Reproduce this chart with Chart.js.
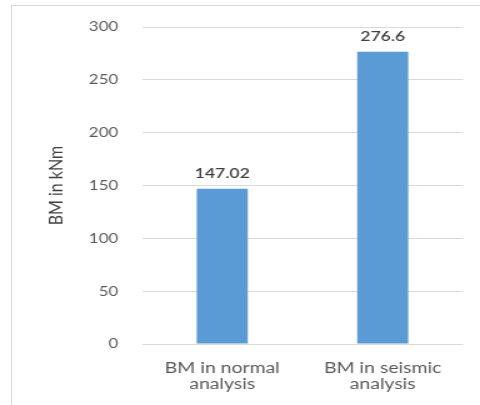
<!DOCTYPE html>
<html>
<head>
<meta charset="utf-8">
<script src="https://cdn.jsdelivr.net/npm/chart.js@4/dist/chart.umd.min.js"></script>
<style>
  html, body { margin: 0; padding: 0; background: #fff; overflow: hidden; }
  body { width: 480px; height: 405px; position: relative; }
  #frame {
    position: absolute; left: 11px; top: 5px; width: 520px; height: 440px;
    border: 1px solid #d9d9d9; box-sizing: border-box;
  }
  #wrap {
    position: absolute; left: 0; top: 0; width: 384px; height: 405px;
    transform: scaleX(1.25); transform-origin: 0 0;
  }
</style>
</head>
<body>
<div id="frame"></div>
<div id="wrap"><canvas id="c" width="384" height="405"></canvas></div>
<script>
// Bending moment results for the two analysis cases
const categories = [["BM in normal", "analysis"], ["BM in seismic", "analysis"]];
const bmValues = [147.02, 276.6];
const valueLabels = ["147.02", "276.6"];
const yTicks = [0, 50, 100, 150, 200, 250, 300];

const barLabels = {
  id: 'barLabels',
  afterDatasetsDraw(chart) {
    const ctx = chart.ctx;
    const meta = chart.getDatasetMeta(0);
    ctx.save();
    ctx.font = '600 14px Lato, "DejaVu Sans", sans-serif';
    ctx.fillStyle = '#404040';
    ctx.textAlign = 'center';
    ctx.textBaseline = 'middle';
    meta.data.forEach((bar, i) => {
      ctx.fillText(valueLabels[i], bar.x, bar.y - 15);
    });
    ctx.restore();
  }
};

new Chart(document.getElementById('c'), {
  type: 'bar',
  data: {
    labels: categories,
    datasets: [{
      data: bmValues,
      backgroundColor: '#5b9bd5',
      borderWidth: 0,
      barPercentage: 0.318,
      categoryPercentage: 1
    }]
  },
  options: {
    responsive: false,
    animation: false,
    devicePixelRatio: 1,
    layout: { padding: { left: 35, right: 13.6, top: 21, bottom: 0 } },
    plugins: { legend: { display: false }, tooltip: { enabled: false } },
    scales: {
      x: {
        grid: { display: false, drawTicks: false },
        border: { display: false },
        ticks: {
          color: '#595959',
          padding: 16,
          font: { family: 'Lato, "DejaVu Sans", sans-serif', size: 15.5, lineHeight: 1.05 }
        },
        afterFit(scale) { scale.height = 61; }
      },
      y: {
        min: 0,
        max: 300,
        afterBuildTicks(scale) { scale.ticks = yTicks.map(v => ({ value: v })); },
        grid: { color: '#d9d9d9', lineWidth: 1, drawTicks: false },
        border: { display: false },
        ticks: {
          color: '#595959',
          padding: 19,
          font: { family: 'Lato, "DejaVu Sans", sans-serif', size: 13.5 }
        },
        title: {
          display: true,
          text: 'BM in kNm',
          color: '#404040',
          padding: 0,
          font: { family: 'Lato, "DejaVu Sans", sans-serif', size: 16 }
        },
        afterFit(scale) { scale.width = 113.6 - 35; }
      }
    }
  },
  plugins: [barLabels]
});
</script>
</body>
</html>
